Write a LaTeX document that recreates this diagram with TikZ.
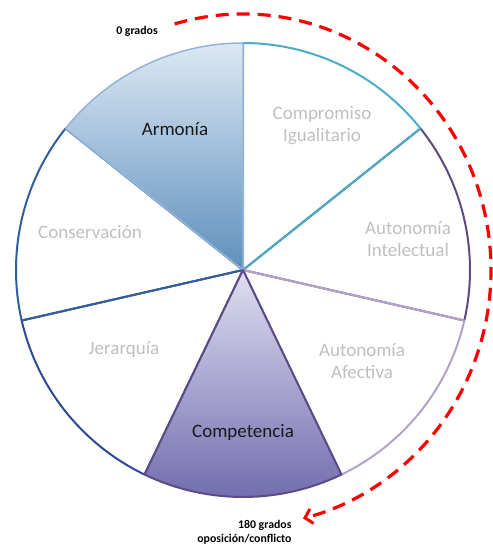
\documentclass[tikz,border=0pt]{standalone}
\usepackage{fontspec}
\setmainfont{Carlito}
\usetikzlibrary{arrows.meta}
\definecolor{labelgrey}{HTML}{BFBFBF}
\definecolor{tealline}{HTML}{4BACC6}
\definecolor{plumline}{HTML}{604A7B}
\definecolor{lilacline}{HTML}{B3A2C7}
\definecolor{navyline}{HTML}{2E4A92}
\definecolor{blueline}{HTML}{305F9C}
\definecolor{armline}{HTML}{95B3D7}
\definecolor{armtop}{HTML}{DCE8F4}
\definecolor{armbot}{HTML}{5E8FBC}
\definecolor{comptop}{HTML}{E0DEF1}
\definecolor{compbot}{HTML}{6F6AAD}
\definecolor{compline}{HTML}{5C4A85}

\begin{document}
\begin{tikzpicture}[x=1pt, y=1pt,
    sector/.style={line width=2pt, line join=round},
    greylabel/.style={text=labelgrey, align=center, font=\fontsize{19}{22}\selectfont},
    darklabel/.style={text=black!90, align=center, font=\fontsize{19}{22}\selectfont},
    gradlabel/.style={text=black, font=\bfseries\fontsize{11.8}{14}\selectfont}]

    \useasboundingbox (-243,-275) rectangle (249,270);
    \coordinate (c) at (0,0);

    % sectores sin relleno
    \draw[sector, plumline] (c) -- (38.57:227) arc[start angle=38.57, end angle=-12.86, radius=227] -- cycle;
    \draw[sector, tealline] (c) -- (90:227) arc[start angle=90, end angle=38.57, radius=227] -- cycle;
    \draw[sector, lilacline] (c) -- (-12.86:227) arc[start angle=-12.86, end angle=-64.29, radius=227] -- cycle;
    \draw[sector, navyline] (c) -- (-115.71:227) arc[start angle=-115.71, end angle=-167.14, radius=227] -- cycle;
    \draw[sector, blueline] (c) -- (-167.14:227) arc[start angle=-167.14, end angle=-218.57, radius=227] -- cycle;

    % sectores con degradado
    \draw[sector, line width=1.5pt, draw=armline, top color=armtop, bottom color=armbot]
        (c) -- (141.43:227) arc[start angle=141.43, end angle=90, radius=227] -- cycle;
    \draw[sector, draw=compline, top color=comptop, bottom color=compbot]
        (c) -- (-64.29:227) arc[start angle=-64.29, end angle=-115.71, radius=227] -- cycle;

    \node[greylabel] (compromiso) at (79,144) {Compromiso\\Igualitario};
    \node[greylabel] (intelectual) at (165,31) {Autonomía\\Intelectual};
    \node[greylabel] (afectiva) at (119,-91) {Autonomía\\Afectiva};
    \node[darklabel] (competencia) at (0,-162) {Competencia};
    \node[greylabel] (jerarquia) at (-119,-80) {Jerarquía};
    \node[greylabel] (conservacion) at (-153,38) {Conservación};
    \node[darklabel] (armonia) at (-68,141) {Armonía};

    % flecha de 0 a 180 grados
    \coordinate (arcstart) at (106:248 and 256);
    \draw[red, line width=3.2pt, dash pattern=on 13pt off 8pt, -{Straight Barb[length=7pt, width=15pt, line width=3pt]}]
        (arcstart) arc[start angle=106, end angle=-76, x radius=248, y radius=256];

    \node[gradlabel] (cero) at (-106,239) {0 grados};
    \node[gradlabel, anchor=east, align=right] (ciento) at (52,-262) {180 grados\\oposición/conflicto};

\end{tikzpicture}
\end{document}
